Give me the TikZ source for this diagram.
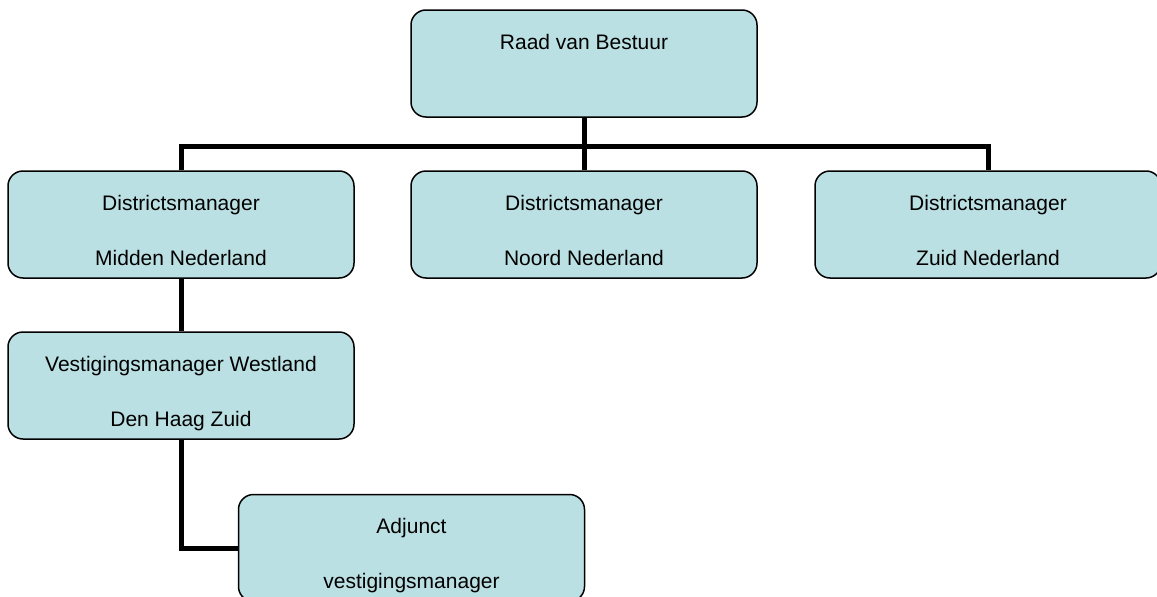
\documentclass[tikz,border=0pt]{standalone}
\usepackage{fontspec}
\setmainfont{Liberation Sans}
\usepackage{tikz}
\usetikzlibrary{positioning}

\begin{document}
\begin{tikzpicture}[x=1pt,y=-1pt]
\tikzstyle{box}=[rectangle, rounded corners=15pt, draw=black, line width=1.5pt, fill=boxblue, minimum width=346pt, minimum height=107pt, align=center, text height=81pt, text depth=0pt, font=\fontsize{21}{55}\selectfont]
\tikzstyle{connect}=[line width=5pt, draw=black]
\definecolor{boxblue}{RGB}{187,224,227}
\useasboundingbox (0,0) rectangle (1157,597);
	\node[box] (raad) at (584,63.5) {Raad van Bestuur\\ \mbox{}};
	\node[box] (midden) at (181,224.5) {Districtsmanager\\ Midden Nederland};
	\node[box] (noord) at (584,224.5) {Districtsmanager\\ Noord Nederland};
	\node[box] (zuid) at (988,224.5) {Districtsmanager\\ Zuid Nederland};
	\node[box] (vest) at (181,385.5) {Vestigingsmanager Westland\\ Den Haag Zuid};
	\node[box] (adjunct) at (411.5,548) {Adjunct\\ vestigingsmanager};

	\path[connect]
		(raad) edge [] (noord)
		(midden) edge [] (vest);
	\draw[connect] (midden.north) -- ++(0,-24) -| (zuid.north);
	\draw[connect] (vest.south) |- (adjunct.west);

\end{tikzpicture}
\end{document}
